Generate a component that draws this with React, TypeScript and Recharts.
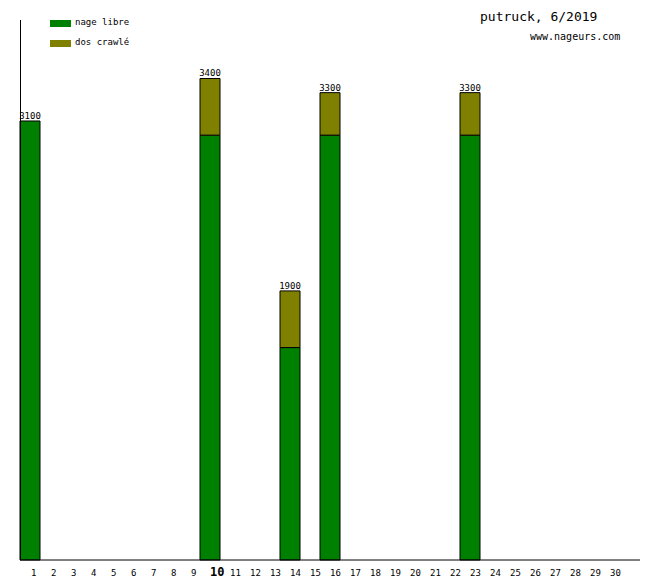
import { BarChart, Bar, XAxis, YAxis, LabelList } from "recharts";

const days = [
  "1", "2", "3", "4", "5", "6", "7", "8", "9", "10",
  "11", "12", "13", "14", "15", "16", "17", "18", "19", "20",
  "21", "22", "23", "24", "25", "26", "27", "28", "29", "30", "",
];

// metres per day
const nageLibre: (number | null)[] = [
  3100, null, null, null, null, null, null, null, null, 3000,
  null, null, null, 1500, null, 3000, null, null, null, null,
  null, null, 3000, null, null, null, null, null, null, null, null,
];
const dosCrawle: (number | null)[] = [
  null, null, null, null, null, null, null, null, null, 400,
  null, null, null, 400, null, 300, null, null, null, null,
  null, null, 300, null, null, null, null, null, null, null, null,
];

const data = days.map((day, i) => {
  const total = (nageLibre[i] ?? 0) + (dosCrawle[i] ?? 0);
  return {
    day,
    libre: nageLibre[i],
    crawl: dosCrawle[i],
    // total goes on top of whichever segment is highest
    soloTotal: dosCrawle[i] ? null : total || null,
    stackTotal: dosCrawle[i] ? total : null,
  };
});

const mono = "'DejaVu Sans Mono', monospace";

const DayTick = (props: any) => {
  const { x, y, payload } = props;
  const big = payload.value === "10";
  const single = payload.value.length === 1;
  return (
    <text
      x={x + (single ? 1 : 0)}
      y={y + 8}
      textAnchor="start"
      fontFamily={mono}
      fontSize={big ? 12 : 9}
      fontWeight={big ? 700 : 400}
      fill="#000"
    >
      {payload.value}
    </text>
  );
};

const TotalLabel = (props: any) => {
  const { x, y, width, value } = props;
  if (!value) return null;
  return (
    <text x={x + width / 2} y={y - 2} textAnchor="middle" fontFamily={mono} fontSize={9} fill="#000">
      {value}
    </text>
  );
};

export default function App() {
  return (
    <div style={{ position: "absolute", left: 0, top: 0, width: 660, height: 580, background: "#fff" }}>
      <BarChart
        width={660}
        height={580}
        data={data}
        margin={{ top: 20, right: 20, left: 20, bottom: 0 }}
        barCategoryGap={0}
        barGap={0}
      >
        <XAxis
          dataKey="day"
          interval={0}
          tickLine={false}
          axisLine={{ stroke: "#000" }}
          tick={<DayTick />}
          height={20}
        />
        <YAxis hide domain={[0, 3813]} />
        <Bar dataKey="libre" stackId="a" fill="#008000" stroke="#000" strokeWidth={1} isAnimationActive={false}>
          <LabelList dataKey="soloTotal" content={<TotalLabel />} />
        </Bar>
        <Bar dataKey="crawl" stackId="a" fill="#808000" stroke="#000" strokeWidth={1} isAnimationActive={false}>
          <LabelList dataKey="stackTotal" content={<TotalLabel />} />
        </Bar>
      </BarChart>
      <div style={{ position: "absolute", left: 20, top: 20, width: 1, height: 540, background: "#000" }} />
      <div style={{ position: "absolute", left: 50, top: 20, width: 21, height: 7, background: "#008000" }} />
      <div style={{ position: "absolute", left: 75, top: 16, fontFamily: mono, fontSize: 9, lineHeight: "12px" }}>nage libre</div>
      <div style={{ position: "absolute", left: 50, top: 40, width: 21, height: 7, background: "#808000" }} />
      <div style={{ position: "absolute", left: 75, top: 36, fontFamily: mono, fontSize: 9, lineHeight: "12px" }}>dos crawlé</div>
      <div style={{ position: "absolute", left: 480, top: 9, fontFamily: mono, fontSize: 13, lineHeight: "16px" }}>putruck, 6/2019</div>
      <div style={{ position: "absolute", left: 530, top: 31, fontFamily: mono, fontSize: 10, lineHeight: "12px" }}>www.nageurs.com</div>
    </div>
  );
}
